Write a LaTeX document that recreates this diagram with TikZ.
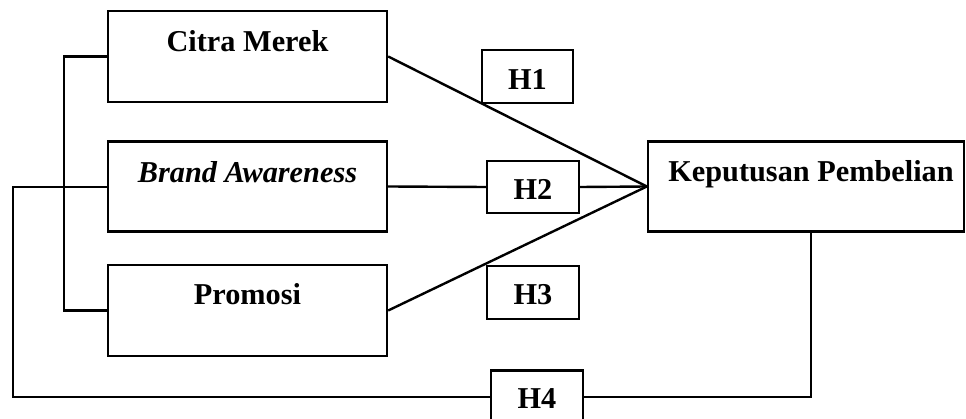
\documentclass[tikz,border=0pt]{standalone}
\usepackage{fontspec}
\setmainfont{Liberation Serif}
\begin{document}
\begin{tikzpicture}[x=1pt,y=-1pt,
  box/.style={draw,line width=2.4pt,minimum width=#1,inner sep=0pt},
  lbl/.style={anchor=base,inner sep=0pt,font=\fontsize{30.3}{32}\selectfont\bfseries},
  ln/.style={line width=2.4pt}]
\useasboundingbox (0,0) rectangle (966,419);
\clip (0,0) rectangle (966,419);
% variable boxes
\node[box=279pt,minimum height=91pt] (cm) at (247.5,56.5) {};
\node[box=279pt,minimum height=90pt] (ba) at (247.5,186.5) {};
\node[box=279pt,minimum height=91pt] (pr) at (247.5,310.5) {};
\node[box=316pt,minimum height=90pt] (kp) at (806,186.5) {};
% hypothesis boxes
\node[box=91pt,minimum height=53pt] (h1) at (527.5,76.5) {};
\node[box=92pt,minimum height=52pt] (h2) at (533,187) {};
\node[box=92pt,minimum height=53pt] (h3) at (533,292.5) {};
\node[box=92pt,minimum height=53pt] (h4) at (537,397) {};
% labels
\node[lbl] (cmt) at (247.5,52) {Citra Merek};
\node[lbl] (bat) at (247.5,183) {\itshape Brand Awareness};
\node[lbl] (prt) at (247.5,305) {Promosi};
\node[lbl] (kpt) at (811,182) {Keputusan Pembelian};
\node[lbl] (h1t) at (527.5,90) {H1};
\node[lbl] (h2t) at (533,200) {H2};
\node[lbl] (h3t) at (533,305) {H3};
\node[lbl] (h4t) at (537,408) {H4};
% connectors
\coordinate (apex) at (kp.west);
\draw[ln] (cm.east) -- (apex);
\draw[ln] (pr.east) -- (apex);
\draw[ln] (ba.east) -- (h2.west);
\draw[ln] (h2.east) -- (apex);
\coordinate (lb) at (64,56.5);
\draw[ln] (cm.west) -- (lb) |- (pr.west);
\coordinate (ob) at (13,187);
\draw[ln] (ba.west |- ob) -- (ob) |- (h4.west);
\coordinate (kb) at (811,397);
\draw[ln] (h4.east) -- (kb) -- (kb |- kp.south);
\end{tikzpicture}
\end{document}
